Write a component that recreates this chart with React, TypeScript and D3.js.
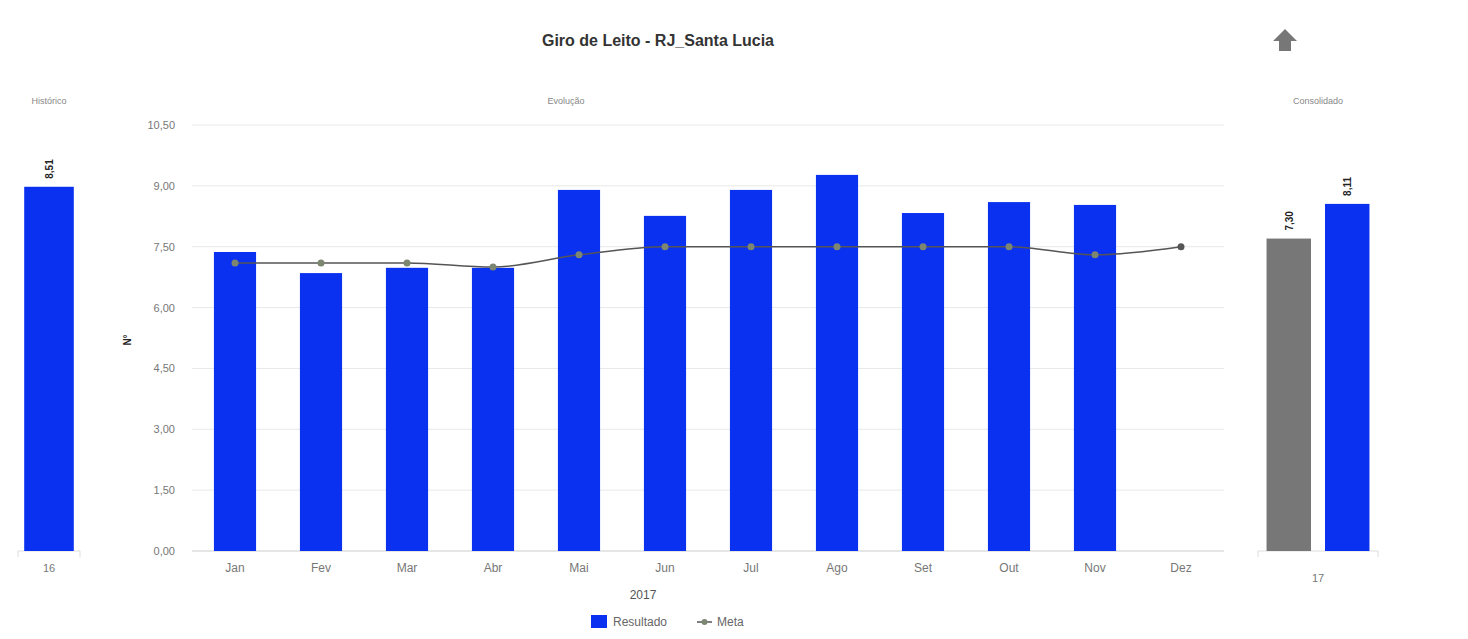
import React from "react";
import * as d3 from "d3";

// Monthly bed turnover, 2017
const months = ["Jan", "Fev", "Mar", "Abr", "Mai", "Jun", "Jul", "Ago", "Set", "Out", "Nov", "Dez"];
const resultado: (number | null)[] = [7.37, 6.85, 6.98, 6.98, 8.9, 8.26, 8.9, 9.27, 8.33, 8.6, 8.53, null];
const meta = [7.1, 7.1, 7.1, 7.0, 7.3, 7.5, 7.5, 7.5, 7.5, 7.5, 7.3, 7.5];
const yTicks = [0, 1.5, 3, 4.5, 6, 7.5, 9, 10.5];

// Historic panel (previous year)
const historicoLabel = "16";
const historicoValue = 8.51;

// Consolidated panel: target vs result
const consolidadoLabel = "17";
const consolidadoKeys = ["Meta", "Resultado"];
const consolidadoValues = [7.3, 8.11];

const BLUE = "#0a30f0";
const GRAY_BAR = "#777777";
const fmt = (v: number) => v.toFixed(2).replace(".", ",");

export default function App() {
  const W = 1468;
  const H = 639;
  const baseY = 551;

  // main chart scales
  const x = d3.scaleBand<string>().domain(months).range([192, 1224]).paddingInner(0.51).paddingOuter(0.255);
  const y = d3.scaleLinear().domain([0, 10.5]).range([baseY, 125]);

  // side panels share their own scale
  const ySide = d3.scaleLinear().domain([0, 10]).range([baseY, baseY - 428]);

  const xHist = d3.scaleBand<string>().domain([historicoLabel]).range([18, 80]).paddingInner(0.2).paddingOuter(0.1);
  const xCons = d3.scaleBand<string>().domain(consolidadoKeys).range([1258, 1378]).paddingInner(0.24).paddingOuter(0.146);

  const metaLine = d3
    .line<number>()
    .x((_, i) => (x(months[i]) as number) + x.bandwidth() / 2)
    .y((d) => y(d))
    .curve(d3.curveMonotoneX);

  const axisText = "#777";
  const font = "Arial, 'Liberation Sans', sans-serif";

  return (
    <svg width={W} height={H} style={{ position: "absolute", left: 0, top: 0, background: "#fff", fontFamily: font }}>
      {/* title */}
      <text x={658} y={46} textAnchor="middle" fontSize={16} fontWeight="bold" fill="#333">
        Giro de Leito - RJ_Santa Lucia
      </text>
      {/* up arrow button */}
      <path d="M1285,29 L1297,41 L1291,41 L1291,51 L1279,51 L1279,41 L1273,41 Z" fill="#777" />

      {/* panel subtitles */}
      <text x={49} y={104} textAnchor="middle" fontSize={9} fill="#888">Histórico</text>
      <text x={566} y={104} textAnchor="middle" fontSize={9} fill="#888">Evolução</text>
      <text x={1318} y={104} textAnchor="middle" fontSize={9} fill="#888">Consolidado</text>

      {/* ---------- Historic panel ---------- */}
      <line x1={18} x2={80} y1={baseY} y2={baseY} stroke="#ddd" />
      <line x1={18} x2={18} y1={baseY} y2={baseY + 6} stroke="#ddd" />
      <line x1={80} x2={80} y1={baseY} y2={baseY + 6} stroke="#ddd" />
      <rect
        x={xHist(historicoLabel)}
        y={ySide(historicoValue)}
        width={xHist.bandwidth()}
        height={baseY - ySide(historicoValue)}
        fill={BLUE}
      />
      <text
        transform={`translate(${(xHist(historicoLabel) as number) + xHist.bandwidth() / 2 + 4},${ySide(historicoValue) - 8}) rotate(-90)`}
        fontSize={10}
        fontWeight="bold"
        fill="#222"
      >
        {fmt(historicoValue)}
      </text>
      <text x={(xHist(historicoLabel) as number) + xHist.bandwidth() / 2} y={572} textAnchor="middle" fontSize={11} fill={axisText}>
        {historicoLabel}
      </text>

      {/* ---------- Main panel ---------- */}
      {yTicks.map((t) => (
        <g key={t}>
          <line x1={192} x2={1224} y1={y(t)} y2={y(t)} stroke={t === 0 ? "#ccc" : "#e8e8e8"} />
          <text x={175} y={y(t) + 4} textAnchor="end" fontSize={11} fill={axisText}>
            {fmt(t)}
          </text>
        </g>
      ))}
      <text transform={`translate(131,340) rotate(-90)`} textAnchor="middle" fontSize={10} fontWeight="bold" fill="#222">
        N°
      </text>

      {months.map((m, i) => {
        const v = resultado[i];
        return v == null ? null : (
          <rect key={m} x={x(m)} y={y(v)} width={x.bandwidth()} height={baseY - y(v)} fill={BLUE} />
        );
      })}

      <path d={metaLine(meta) || ""} fill="none" stroke="#555" strokeWidth={1.5} />
      {meta.map((v, i) => (
        <circle
          key={i}
          cx={(x(months[i]) as number) + x.bandwidth() / 2}
          cy={y(v)}
          r={3.5}
          fill={resultado[i] == null ? "#555" : "#7c8670"}
        />
      ))}

      {months.map((m) => (
        <text key={m} x={(x(m) as number) + x.bandwidth() / 2} y={572} textAnchor="middle" fontSize={12} fill={axisText}>
          {m}
        </text>
      ))}
      <text x={643} y={599} textAnchor="middle" fontSize={12} fill="#555">2017</text>

      {/* legend */}
      <rect x={591} y={615} width={16} height={13} fill={BLUE} />
      <text x={613} y={626} fontSize={12} fill="#666">Resultado</text>
      <line x1={697} x2={712} y1={622} y2={622} stroke="#555" strokeWidth={1.5} />
      <circle cx={704.5} cy={622} r={3} fill="#7c8670" />
      <text x={717} y={626} fontSize={12} fill="#666">Meta</text>

      {/* ---------- Consolidated panel ---------- */}
      <line x1={1258} x2={1378} y1={baseY} y2={baseY} stroke="#ddd" />
      <line x1={1258} x2={1258} y1={baseY} y2={baseY + 6} stroke="#ddd" />
      <line x1={1378} x2={1378} y1={baseY} y2={baseY + 6} stroke="#ddd" />
      {consolidadoKeys.map((k, i) => {
        const v = consolidadoValues[i];
        const bx = xCons(k) as number;
        return (
          <g key={k}>
            <rect x={bx} y={ySide(v)} width={xCons.bandwidth()} height={baseY - ySide(v)} fill={i === 0 ? GRAY_BAR : BLUE} />
            <text
              transform={`translate(${bx + xCons.bandwidth() / 2 + 4},${ySide(v) - 8}) rotate(-90)`}
              fontSize={10}
              fontWeight="bold"
              fill="#222"
            >
              {fmt(v)}
            </text>
          </g>
        );
      })}
      <text x={1318} y={582} textAnchor="middle" fontSize={11} fill={axisText}>
        {consolidadoLabel}
      </text>
    </svg>
  );
}
